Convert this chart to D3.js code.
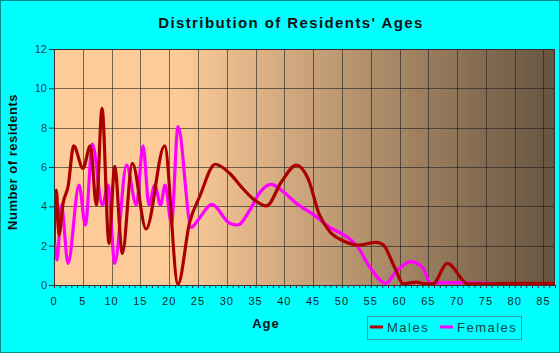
<!DOCTYPE html>
<html><head><meta charset="utf-8">
<script src="https://cdn.jsdelivr.net/npm/d3@7/dist/d3.min.js"></script>
<style>
html,body{margin:0;padding:0;background:#00ffff;}
svg{display:block;font-family:Arial,"Liberation Sans",sans-serif;}
</style></head>
<body>
<svg id="c" width="560" height="353"></svg>
<script>
// Data (age, number of residents)
const maleAges   = [0,0.41,0.87,1.57,2.44,3.42,5.04,6.31,7.36,8.34,9.55,10.54,11.87,13.6,16.0,19.2,21.53,23.56,25.3,28.0,30.5,32.5,34.5,36.9,39.5,42.1,44.1,46.1,47.9,50.2,52.8,56.0,57.2,59.1,60.7,62.9,64.5,65.8,68.3,71.9,75,80,87];
const maleValues = [2.1,4.83,2.54,4.15,5.0,7.07,5.93,7.07,4.07,8.98,2.12,6.02,1.61,6.19,2.85,7.07,0.05,3.2,4.5,6.14,5.68,5.0,4.4,4.02,5.25,6.1,5.42,3.56,2.71,2.25,2.03,2.17,2.03,0.93,0.06,0.15,0.06,0.06,1.1,0.06,0.06,0.08,0.08];
const femaleAges   = [0,0.53,1.28,2.44,4.35,5.45,6.66,8.4,9.4,10.54,12.6,14.3,15.46,16.5,17.5,18.5,19.3,20.4,21.53,23.85,25.0,27.4,30.5,31.9,34.0,35.7,37.7,39.8,42.1,45.0,47.9,50.8,52.5,54.8,57.6,59.4,62.0,64.1,65.4,66.5,70,75,77];
const femaleValues = [2.6,1.27,4.07,1.1,5.08,3.05,7.17,4.07,5.08,1.1,6.1,4.07,7.07,4.07,5.08,4.07,5.08,3.1,8.05,2.93,3.3,4.1,3.14,3.05,3.81,4.69,5.12,4.74,4.15,3.59,2.93,2.46,2.03,0.93,0.08,0.68,1.19,0.85,0.05,0.12,0.12,0.08,0.05];
const xTicks = d3.range(0, 86, 5);
const yTicks = [0,2,4,6,8,10,12];
const seriesNames = ["Males","Females"];
const seriesColors = ["#aa0000","#ff00ff"];

const svg = d3.select("#c");
const W = 560, H = 353;
const L = 54, R = 555, T = 49, B = 285;
const x = d3.scaleLinear().domain([0, 87]).range([L, R]);
const y = d3.scaleLinear().domain([0, 12]).range([B, T]);

// outer border
svg.append("rect").attr("x",0.5).attr("y",0.5).attr("width",W-1).attr("height",H-1)
  .attr("fill","#00ffff").attr("stroke","#008b8b");

// gradient background
const defs = svg.append("defs");
const g = defs.append("linearGradient").attr("id","bg").attr("x1","0%").attr("x2","100%").attr("y1","0%").attr("y2","0%");
g.append("stop").attr("offset","0%").attr("stop-color","#ffcc99");
g.append("stop").attr("offset","25%").attr("stop-color","#fdcb98");
g.append("stop").attr("offset","100%").attr("stop-color","#665440");
svg.append("rect").attr("x",L).attr("y",T).attr("width",R-L).attr("height",B-T).attr("fill","url(#bg)");

// grid
const grid = svg.append("g").attr("stroke","rgba(30,30,30,0.6)").attr("stroke-width",1);
grid.selectAll("line.v").data(xTicks.filter(d=>d>0)).join("line")
  .attr("x1",d=>Math.round(x(d))+0.5).attr("x2",d=>Math.round(x(d))+0.5).attr("y1",T).attr("y2",B);
grid.selectAll("line.h").data(yTicks.filter(d=>d>0 && d<12)).join("line")
  .attr("y1",d=>Math.round(y(d))+0.5).attr("y2",d=>Math.round(y(d))+0.5).attr("x1",L).attr("x2",R);

// plot frame top/right
svg.append("path").attr("d",`M${L},${T+0.5}H${R-0.5}V${B}`).attr("fill","none").attr("stroke","#333").attr("stroke-width",1);

// lines
const line = d3.line().x(d=>x(d[0])).y(d=>y(d[1])).curve(d3.curveMonotoneX);
const clip = defs.append("clipPath").attr("id","clip");
clip.append("rect").attr("x",L).attr("y",T-5).attr("width",R-L).attr("height",B-T+5);
const series = [
  d3.zip(femaleAges, femaleValues),
  d3.zip(maleAges, maleValues)
];
const lg = svg.append("g").attr("clip-path","url(#clip)");
lg.append("path").datum(series[0]).attr("d",line).attr("fill","none")
  .attr("stroke",seriesColors[1]).attr("stroke-width",3.2).attr("stroke-linejoin","round");
lg.append("path").datum(series[1]).attr("d",line).attr("fill","none")
  .attr("stroke",seriesColors[0]).attr("stroke-width",3.2).attr("stroke-linejoin","round");

// x axis
const xa = svg.append("g").attr("transform",`translate(0,${B})`)
  .call(d3.axisBottom(x).tickValues(d3.range(0,88,1)).tickSize(3).tickFormat(""));
xa.select(".domain").attr("stroke","#333");
xa.selectAll(".tick line").attr("stroke","#333");
svg.append("g").selectAll("text").data(xTicks).join("text")
  .attr("x",d=>x(d)).attr("y",B+20).attr("text-anchor","middle")
  .attr("font-size",11).attr("letter-spacing",1).attr("fill","#0a2626").text(d=>d);

// y axis
const ya = svg.append("g").attr("transform",`translate(${L},0)`)
  .call(d3.axisLeft(y).tickValues(yTicks).tickSize(5).tickFormat(d=>d).tickPadding(2));
ya.select(".domain").attr("stroke","#333");
ya.selectAll(".tick line").attr("stroke","#333");
ya.selectAll(".tick text").attr("font-size",11).attr("fill","#1d4848").attr("font-family","Arial,'Liberation Sans',sans-serif");

// titles
svg.append("text").attr("x",291).attr("y",28).attr("text-anchor","middle")
  .attr("font-size",15).attr("font-weight","bold").attr("letter-spacing",1.4).attr("fill","#111")
  .text("Distribution of Residents' Ages");
svg.append("text").attr("x",266).attr("y",328).attr("text-anchor","middle")
  .attr("font-size",13).attr("font-weight","bold").attr("letter-spacing",1).attr("fill","#111").text("Age");
svg.append("text").attr("transform",`translate(17,162) rotate(-90)`).attr("text-anchor","middle")
  .attr("font-size",13).attr("font-weight","bold").attr("letter-spacing",0.5).attr("fill","#111").text("Number of residents");

// legend
const leg = svg.append("g");
leg.append("rect").attr("x",367.5).attr("y",316.5).attr("width",154).attr("height",23)
  .attr("fill","none").attr("stroke","#339999");
const lx = [370, 440];
seriesNames.forEach((n,i)=>{
  leg.append("line").attr("x1",lx[i]).attr("x2",lx[i]+13).attr("y1",327).attr("y2",327)
    .attr("stroke",seriesColors[i]).attr("stroke-width",3);
  leg.append("text").attr("x",lx[i]+17).attr("y",332).attr("font-size",13).attr("letter-spacing",1.5)
    .attr("fill","#114444").text(n);
});
</script>
</body></html>
